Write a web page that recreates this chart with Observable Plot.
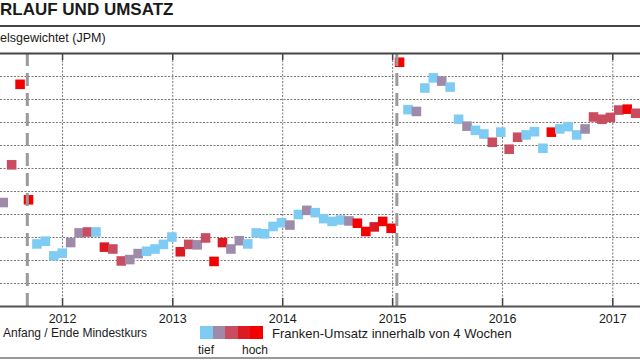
<!DOCTYPE html>
<html>
<head>
<meta charset="utf-8">
<script src="https://cdn.jsdelivr.net/npm/d3@7"></script>
<script src="https://cdn.jsdelivr.net/npm/@observablehq/plot@0.6"></script>
<style>
  html, body { margin: 0; padding: 0; background: #fff; }
  #c { position: relative; width: 640px; height: 360px; overflow: hidden; background: #fff;
       font-family: "Liberation Sans", Arial, sans-serif; color: #1a1a1a; }
  .abs { position: absolute; white-space: nowrap; }
</style>
</head>
<body>
<div id="c">
  <div id="chart" class="abs" style="left:0;top:52px"></div>
  <div class="abs" style="left:0;top:0;font-weight:bold;font-size:17px;line-height:20px;">RLAUF UND UMSATZ</div>
  <div class="abs" style="left:0;top:25px;width:640px;border-top:2px solid #444;"></div>
  <div class="abs" style="left:0;top:30px;font-size:12.5px;line-height:16px;">elsgewichtet (JPM)</div>
  <div class="abs" style="left:3px;top:326px;font-size:12px;line-height:14px;">Anfang / Ende Mindestkurs</div>
  <div id="swatches" class="abs" style="left:200px;top:326px;height:13px;display:flex;"></div>
  <div class="abs" style="left:272px;top:325.5px;font-size:13px;line-height:15px;">Franken-Umsatz innerhalb von 4 Wochen</div>
  <div class="abs" style="left:198px;top:343px;font-size:12px;line-height:14px;">tief</div>
  <div class="abs" style="left:242px;top:343px;font-size:12px;line-height:14px;">hoch</div>
  <div class="abs" style="left:0;top:357px;width:640px;border-top:2px solid #999;"></div>
</div>
<script>
// ---- data ----
const levelColors = ["#7ecbf3", "#a08aaa", "#c94c60", "#dc1a22", "#f40000"];
const levelNames = [1, 2, 3, 4, 5];

const dates = [
  "2011-06-18","2011-07-16","2011-08-13","2011-09-10","2011-10-08","2011-11-05","2011-12-03","2011-12-31",
  "2012-01-28","2012-02-25","2012-03-24","2012-04-21","2012-05-19","2012-06-16","2012-07-14","2012-08-11",
  "2012-09-08","2012-10-06","2012-11-03","2012-12-01","2012-12-29","2013-01-26","2013-02-23","2013-03-23",
  "2013-04-20","2013-05-18","2013-06-15","2013-07-13","2013-08-10","2013-09-07","2013-10-05","2013-11-02",
  "2013-11-30","2013-12-28","2014-01-25","2014-02-22","2014-03-22","2014-04-19","2014-05-17","2014-06-14",
  "2014-07-12","2014-08-09","2014-09-06","2014-10-04","2014-11-01","2014-11-29","2014-12-27","2015-01-24",
  "2015-02-21","2015-03-21","2015-04-18","2015-05-16","2015-06-13","2015-07-11","2015-08-08","2015-09-05",
  "2015-10-03","2015-10-31","2015-11-28","2015-12-26","2016-01-23","2016-02-20","2016-03-19","2016-04-16",
  "2016-05-14","2016-06-11","2016-07-09","2016-08-06","2016-09-03","2016-10-01","2016-10-29","2016-11-26",
  "2016-12-24","2017-01-21","2017-02-18","2017-03-18"
];

const indexValues = [
  122.6, 130.8, 148.3, 123.2, 113.6, 114.2, 111.0, 111.6,
  113.9, 116.0, 116.2, 116.2, 112.9, 112.5, 109.9, 110.2,
  111.5, 112.0, 112.5, 113.5, 115.1, 111.9, 113.5, 113.4,
  114.9, 109.8, 113.9, 112.5, 114.3, 113.6, 116.0, 115.8,
  117.4, 118.2, 117.7, 120.0, 120.9, 120.4, 119.1, 118.5,
  118.8, 118.6, 118.1, 116.3, 117.3, 118.5, 117.0, 153.1,
  142.8, 142.4, 147.5, 149.7, 149.0, 147.7, 140.7, 139.2,
  138.3, 137.5, 135.7, 137.9, 134.2, 136.8, 137.3, 138.0,
  134.4, 137.9, 138.6, 139.1, 137.3, 138.6, 141.2, 140.7,
  141.1, 142.7, 142.9, 142.0
];

const umsatzLevel = [
  2, 3, 5, 5, 1, 1, 1, 1,
  2, 2, 3, 1, 4, 3, 3, 2,
  2, 1, 1, 1, 1, 4, 3, 2,
  3, 5, 4, 2, 2, 1, 1, 1,
  1, 1, 2, 1, 2, 1, 1, 1,
  1, 2, 5, 5, 4, 5, 5, 5,
  1, 2, 1, 1, 2, 1, 1, 2,
  1, 1, 3, 1, 3, 3, 1, 1,
  1, 5, 1, 1, 1, 2, 3, 3,
  3, 3, 5, 3
];

const yearTicks = ["2012-01-01","2013-01-01","2014-01-01","2015-01-01","2016-01-01","2017-01-01"];
const pegDates = ["2011-09-06", "2015-01-15"];
const yGrid = [105, 110, 115, 120, 125, 130, 135, 140, 145, 150];
const yDomain = [100, 155];
const xDomain = ["2011-06-09", "2017-04-03"];

// ---- build ----
const data = dates.map((d, i) => ({ date: new Date(d), value: indexValues[i], level: umsatzLevel[i] }));
const years = yearTicks.map(d => new Date(d));
const pegs = pegDates.map(d => new Date(d));

const chart = Plot.plot({
  width: 640,
  height: 276,
  marginTop: 1,
  marginBottom: 22,
  marginLeft: 0,
  marginRight: 0,
  x: { type: "utc", domain: xDomain.map(d => new Date(d)) },
  y: { domain: yDomain, axis: null },
  color: { type: "ordinal", domain: levelNames, range: levelColors },
  style: { fontFamily: "'Liberation Sans', Arial, sans-serif", fontSize: "12px", color: "#1a1a1a", background: "transparent" },
  marks: [
    Plot.ruleY(yGrid, { stroke: "#777", strokeWidth: 1, strokeDasharray: "2,1.5" }),
    Plot.ruleX(years, { stroke: "#777", strokeWidth: 1, strokeDasharray: "2,1.5" }),
    Plot.tickX(years, { x: d => d, insetTop: 245, stroke: "#444", strokeWidth: 1.5 }),
    Plot.tickX(years, { x: d => d, insetBottom: 246, stroke: "#444", strokeWidth: 1.5 }),
    Plot.dot(data, { x: "date", y: "value", fill: "level", symbol: "square", r: 5.4 }),
    Plot.ruleX(pegs, { stroke: "#9a9a9a", strokeWidth: 3, strokeDasharray: "13,7" }),
    Plot.ruleY([yDomain[1]], { stroke: "#444", strokeWidth: 2 }),
    Plot.ruleY([yDomain[0]], { stroke: "#555", strokeWidth: 2 }),
    Plot.axisX({ ticks: years, tickFormat: d3.utcFormat("%Y"), tickSize: 0, tickPadding: 8, fontSize: 12.5 })
  ]
});
document.getElementById("chart").appendChild(chart);

// legend swatches
const sw = document.getElementById("swatches");
levelColors.forEach(c => {
  const s = document.createElement("div");
  s.style.width = "12.6px";
  s.style.height = "13px";
  s.style.background = c;
  sw.appendChild(s);
});
</script>
</body>
</html>
